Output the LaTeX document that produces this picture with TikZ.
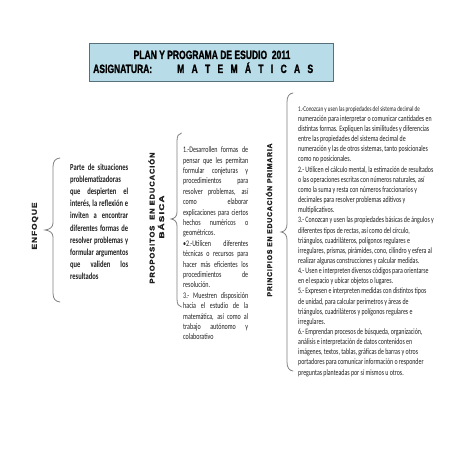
\documentclass[tikz,border=0pt]{standalone}
\usepackage{fontspec}
\newfontfamily\bodyf{Carlito}[FakeStretch=0.71]
\newfontfamily\headf{Liberation Sans}[FakeStretch=0.71,FakeBold=1.2]
\newfontfamily\labf{Liberation Sans}[LetterSpace=12,FakeBold=1.6]
\definecolor{boxfill}{HTML}{B8DCE8}
\definecolor{boxline}{HTML}{56707C}
\definecolor{bracegray}{HTML}{808080}
\definecolor{txtcol}{HTML}{1E1E1E}
\newcommand\Jl[2]{\makebox[#1][s]{#2}}
\newcommand\vlab[2]{\resizebox{#1}{\height}{#2}}
\begin{document}
\begin{tikzpicture}[x=1pt,y=-1pt,
  brc/.style={draw=bracegray, line width=0.8pt, line cap=round},
  lab/.style={rotate=90, inner sep=0, text=txtcol, font=\labf\bfseries\fontsize{7}{8}\selectfont},
  colnode/.style={inner sep=0, anchor=north west, align=left, text=txtcol},
  headtxt/.style={inner sep=0, text=black, font=\headf\bfseries\fontsize{12}{14}\selectfont}]
\useasboundingbox (0,0) rectangle (452,452);

% title box
\node[draw=boxline, fill=boxfill, line width=1.2pt, minimum width=244pt, minimum height=38pt,
      inner sep=0, anchor=north west] (title) at (89,43) {};
\node[headtxt, anchor=base] (t1) at (212,59) {PLAN Y PROGRAMA DE ESUDIO\ \ 2011};
\node[headtxt, anchor=base west] (t2) at (93,73) {ASIGNATURA:};
\node[headtxt, anchor=base west] (t3) at (177,73) {M\hspace{7.3pt}A\hspace{7.3pt}T\hspace{7.3pt}E\hspace{7.3pt}M\hspace{7.3pt}Á\hspace{7.3pt}T\hspace{7.3pt}I\hspace{7.3pt}C\hspace{7.3pt}A\hspace{7.3pt}S};

% vertical labels
\node[lab] (enf) at (35,226) {\vlab{47pt}{ENFOQUE}};
\node[lab] (propa) at (151.5,218) {\vlab{131pt}{PROPOSITOS\ \ EN EDUCACIÓN}};
\node[lab] (propb) at (161,217) {\vlab{43pt}{BÁSICA}};
\node[lab] (prin) at (269,220) {\vlab{153pt}{PRINCIPIOS EN EDUCACIÓN PRIMARIA}};

% braces
\draw[brc] (60,158) .. controls (55.5,158.5) and (53,161) .. (53,167) -- (53,223)
  .. controls (53,227) and (50,229.5) .. (45,230)
  .. controls (50,230.5) and (53,233) .. (53,237) -- (53,293)
  .. controls (53,299) and (55.5,301.5) .. (60,302);
\draw[brc] (181.5,133) .. controls (178.5,133.5) and (177,136) .. (177,141) -- (177,212)
  .. controls (177,216) and (175,218.5) .. (171,219)
  .. controls (175,219.5) and (177,222) .. (177,226) -- (177,299)
  .. controls (177,304) and (178.5,306.5) .. (181.5,307);
\draw[brc] (293,93) .. controls (289,93.5) and (287,96.5) .. (287,102) -- (287,224)
  .. controls (287,228.5) and (285,231.5) .. (281,232)
  .. controls (285,232.5) and (287,235.5) .. (287,240) -- (287,362)
  .. controls (287,367.5) and (289,370.5) .. (293,371);

% left column
\node[colnode, font=\bodyf\bfseries\fontsize{9.2}{12.2}\selectfont] (enftext) at (70,163.5) {%
\Jl{58pt}{Parte de situaciones}\\
problematizadoras\\
\Jl{58pt}{que despierten el}\\
\Jl{58pt}{interés, la reflexión e}\\
\Jl{58pt}{inviten a encontrar}\\
\Jl{58pt}{diferentes formas de}\\
\Jl{58pt}{resolver problemas y}\\
\Jl{58pt}{formular argumentos}\\
\Jl{58pt}{que validen los}\\
resultados};

% middle column
\node[colnode, font=\bodyf\fontsize{8.5}{10.4}\selectfont] (proptext) at (183,146.5) {%
\Jl{65pt}{1.-Desarrollen formas de}\\
\Jl{65pt}{pensar que les permitan}\\
\Jl{65pt}{formular conjeturas y}\\
\Jl{65pt}{procedimientos para}\\
\Jl{65pt}{resolver problemas, así}\\
\Jl{65pt}{como elaborar}\\
\Jl{65pt}{explicaciones para ciertos}\\
\Jl{65pt}{hechos numéricos o}\\
geométricos.\\
\Jl{65pt}{•2.-Utilicen diferentes}\\
\Jl{65pt}{técnicas o recursos para}\\
\Jl{65pt}{hacer más eficientes los}\\
\Jl{65pt}{procedimientos de}\\
resolución.\\
\Jl{65pt}{3.- Muestren disposición}\\
\Jl{65pt}{hacia el estudio de la}\\
\Jl{65pt}{matemática, así como al}\\
\Jl{65pt}{trabajo autónomo y}\\
colaborativo};

% right column
\node[colnode, font=\bodyf\fontsize{8.3}{10.15}\selectfont] (printext) at (298,106) {%
{\fontsize{7.2}{10.15}\selectfont 1.-Conozcan y usen las propiedades del sistema decimal de}\\
numeración para interpretar o comunicar cantidades en\\
distintas formas. Expliquen las similitudes y diferencias\\
entre las propiedades del sistema decimal de\\
numeración y las de otros sistemas, tanto posicionales\\
como no posicionales.\\
2.- Utilicen el cálculo mental, la estimación de resultados\\
o las operaciones escritas con números naturales, así\\
como la suma y resta con números fraccionarios y\\
decimales para resolver problemas aditivos y\\
multiplicativos.\\
3.- Conozcan y usen las propiedades básicas de ángulos y\\
diferentes tipos de rectas, así como del círculo,\\
triángulos, cuadriláteros, polígonos regulares e\\
irregulares, prismas, pirámides, cono, cilindro y esfera al\\
realizar algunas construcciones y calcular medidas.\\
4.- Usen e interpreten diversos códigos para orientarse\\
en el espacio y ubicar objetos o lugares.\\
5.- Expresen e interpreten medidas con distintos tipos\\
de unidad, para calcular perímetros y áreas de\\
triángulos, cuadriláteros y polígonos regulares e\\
irregulares.\\
6.- Emprendan procesos de búsqueda, organización,\\
análisis e interpretación de datos contenidos en\\
imágenes, textos, tablas, gráficas de barras y otros\\
portadores para comunicar información o responder\\
preguntas planteadas por sí mismos u otros.};
\end{tikzpicture}
\end{document}
